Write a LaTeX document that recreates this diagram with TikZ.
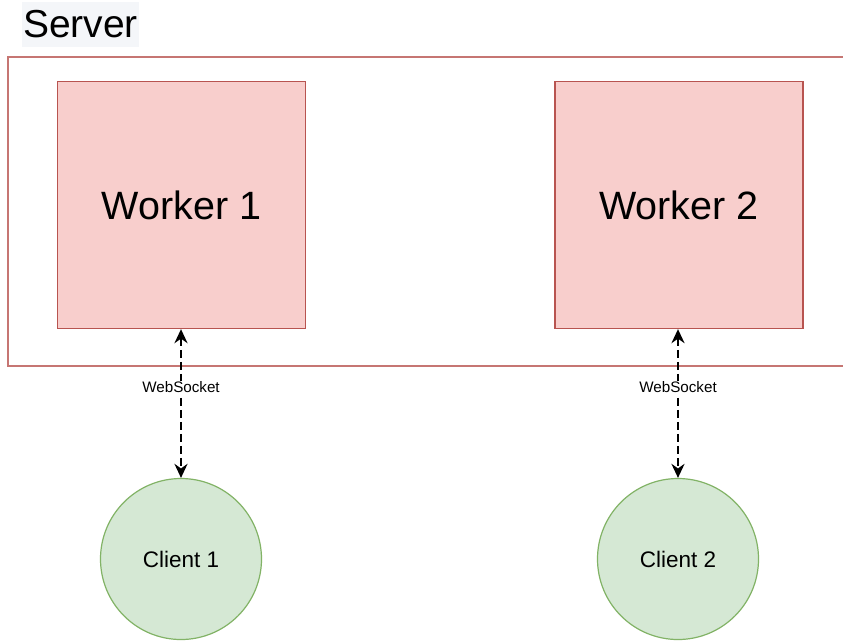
\documentclass[tikz,border=0pt]{standalone}
\usepackage{fontspec}
\setmainfont{Liberation Sans}
\usetikzlibrary{arrows.meta}
\definecolor{workerfill}{HTML}{F8CECC}
\definecolor{workerline}{HTML}{B85450}
\definecolor{clientfill}{HTML}{D5E8D4}
\definecolor{clientline}{HTML}{82B366}
\definecolor{labelbg}{HTML}{F4F6F9}
\begin{document}
\begin{tikzpicture}[x=1pt, y=-1pt,
    worker/.style={draw=workerline, fill=workerfill, line width=1.3pt, minimum width=248pt, minimum height=247pt, inner sep=0pt, font=\fontsize{39.5}{42}\selectfont},
    client/.style={circle, draw=clientline, fill=clientfill, line width=1.2pt, minimum size=161pt, inner sep=0pt, font=\fontsize{22.5}{26}\selectfont},
    wsarrow/.style={dash pattern=on 8pt off 4pt, line width=2.9pt, {Stealth[length=14pt,width=13pt]}-{Stealth[length=14pt,width=13pt]}},
    wslabel/.style={fill=white, inner sep=1pt, font=\fontsize{15.2}{17}\selectfont}]
    \useasboundingbox (0,0) rectangle (843,641);
    \clip (0,0) rectangle (843,641);
    \fill[white] (0,0) rectangle (843,641);

    \node[fill=labelbg, minimum width=117pt, minimum height=45pt, inner sep=0pt, font=\fontsize{39}{42}\selectfont] (serverlabel) at (80.5,24.5) {Server};
    \draw[workerline!80, line width=1.3pt] (8,57) rectangle (860,366);

    \node[worker] (worker1) at (181.5,205) {Worker 1};
    \node[worker] (worker2) at (679,205) {Worker 2};

    \node[client] (client1) at (181,559) {Client 1};
    \node[client] (client2) at (678,559) {Client 2};

    \draw[wsarrow] (worker1.south -| client1) -- node[wslabel, pos=0.39] {WebSocket} (client1.north);
    \draw[wsarrow] (worker2.south -| client2) -- node[wslabel, pos=0.39] {WebSocket} (client2.north);
\end{tikzpicture}
\end{document}
